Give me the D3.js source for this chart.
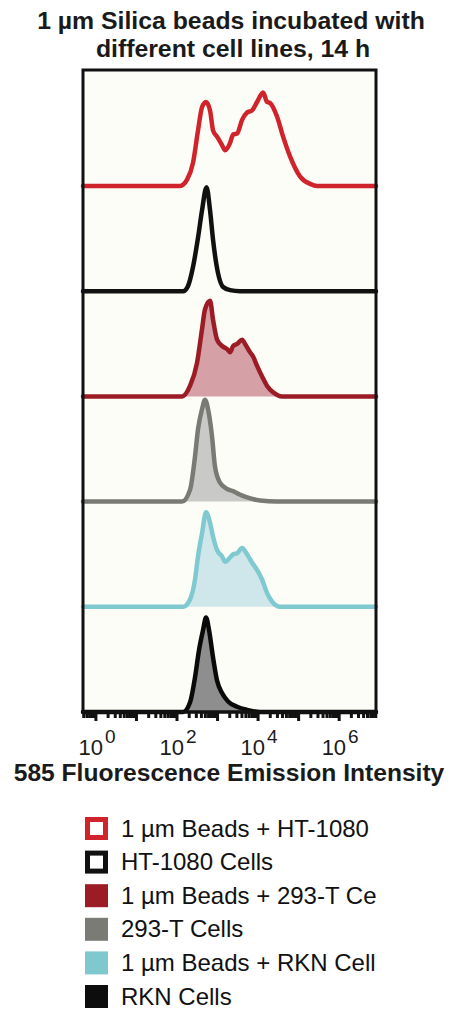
<!DOCTYPE html>
<html>
<head>
<meta charset="utf-8">
<script src="https://cdn.jsdelivr.net/npm/d3@7"></script>
<style>
  body { margin: 0; background: #fff; }
  svg { display: block; font-family: "Liberation Sans", Arial, sans-serif; }
</style>
</head>
<body>
<svg id="chart" width="450" height="1010"></svg>
<script>
// values: [intensity, % of max]
var htBeads = [[119,0],[177,6],[248,22],[330,53],[414,75],[520,80],[653,72],[774,53],[972,47],[1290,39],[1530,34],
  [2040,41],[2420,49],[3030,50],[4030,63],[5350,70],[7110,72],[9440,80],[13280,89],[16670,80],[19780,79],
  [29440,66],[41400,47],[61660,28],[108900,9],[192300,2],[286400,0]];
var htCells = [[141,0],[187,5],[248,23],[330,51],[414,77],[535,99],[653,77],[774,49],[1030,17],[1370,4],[2040,1],[3590,0]];
var t293Beads = [[133,0],[209,10],[312,32],[414,64],[491,83],[653,91],[774,73],[972,54],[1290,48],[1720,45],[2040,42],
  [2420,48],[3030,50],[4030,54],[4780,50],[6340,42],[7530,38],[9440,29],[12550,19],[16670,10],[23440,4],[39160,0]];
var t293Cells = [[133,0],[209,11],[278,43],[330,69],[414,88],[491,97],[583,88],[731,62],[867,33],[1150,18],[1720,12],
  [2400,10],[3400,7],[5350,4],[11190,1],[29440,0]];
var rknBeads = [[141,0],[209,7],[278,26],[330,48],[414,70],[520,90],[653,80],[774,67],[972,54],[1290,48],[1530,43],
  [2040,47],[2420,50],[3030,51],[4030,56],[5350,50],[7110,42],[9440,35],[12550,26],[16670,13],[22180,5],[34910,0]];
var rknCells = [[141,0],[209,9],[278,33],[349,59],[439,78],[520,90],[617,78],[774,52],[972,30],[1290,18],[1820,10],
  [3030,5],[5350,2],[11190,0]];

var seriesNames = ["1 µm Beads + HT-1080", "HT-1080 Cells", "1 µm Beads + 293-T Ce", "293-T Cells", "1 µm Beads + RKN Cell", "RKN Cells"];
var seriesData = [htBeads, htCells, t293Beads, t293Cells, rknBeads, rknCells];
var strokeColors = ["#d0232b", "#111111", "#9b1c25", "#7a7a74", "#7ecad0", "#0a0a0a"];
var fillColors = ["none", "none", "#d6a0a7", "#c9c9c7", "#cfe6ea", "#8e8e8e"];
var legendColors = ["#d0232b", "#111111", "#9b1c25", "#7b7b75", "#7fc8ce", "#0d0d0d"];
var legendHollow = [true, true, false, false, false, false];
var tickExponents = [0, 2, 4, 6];

var svg = d3.select("#chart");
var plotL = 83, plotR = 376, plotT = 70, plotB = 712;

var x = d3.scaleLog().domain([0.48, 8.1e6]).range([plotL, plotR]);
var band = d3.scalePoint().domain(seriesNames).range([186, plotB]);
var h = d3.scaleLinear().domain([0, 100]).range([0, 105]);

// title
svg.append("text").attr("x", 231).attr("y", 29).attr("text-anchor", "middle")
  .style("font-weight", "bold").style("font-size", "24.8px").attr("fill", "#1a1a1a")
  .text("1 µm Silica beads incubated with");
svg.append("text").attr("x", 233).attr("y", 57).attr("text-anchor", "middle")
  .style("font-weight", "bold").style("font-size", "24.8px").attr("fill", "#1a1a1a")
  .text("different cell lines, 14 h");

// plot background
svg.append("rect").attr("x", plotL).attr("y", plotT).attr("width", plotR - plotL).attr("height", plotB - plotT)
  .attr("fill", "#fdfdf7");

svg.append("clipPath").attr("id", "plotclip").append("rect")
  .attr("x", plotL - 3).attr("y", plotT).attr("width", plotR - plotL + 6).attr("height", plotB - plotT + 3);

var g = svg.append("g").attr("clip-path", "url(#plotclip)");
var dom = x.domain();

seriesData.forEach(function(d, i) {
  var base = band(seriesNames[i]);
  var pts = [[dom[0], 0]].concat(d, [[dom[1], 0]]);
  if (fillColors[i] != "none") {
    var area = d3.area().x(function(p) { return x(p[0]); })
      .y0(base).y1(function(p) { return base - h(p[1]); }).curve(d3.curveMonotoneX);
    g.append("path").attr("d", area(d)).attr("fill", fillColors[i]);
  }
  var line = d3.line().x(function(p) { return x(p[0]); })
    .y(function(p) { return base - h(p[1]); }).curve(d3.curveMonotoneX);
  g.append("path").attr("d", line(pts)).attr("fill", "none")
    .attr("stroke", strokeColors[i]).attr("stroke-width", 4.5)
    .attr("stroke-linejoin", "round").attr("stroke-linecap", "round");
});

// frame
svg.append("path").attr("d", "M" + plotL + "," + plotB + "V" + plotT + "H" + plotR + "V" + plotB)
  .attr("fill", "none").attr("stroke", "#111").attr("stroke-width", 3);
svg.append("line").attr("x1", plotL - 1.5).attr("x2", plotR + 1.5).attr("y1", plotB).attr("y2", plotB)
  .attr("stroke", "#111").attr("stroke-width", 3.5);

// x ticks
var ticks = x.ticks().filter(function(t) { return t >= dom[0] && t <= dom[1]; });
svg.selectAll(".tick").data(ticks).enter().append("line")
  .attr("x1", function(t) { return x(t); }).attr("x2", function(t) { return x(t); })
  .attr("y1", plotB).attr("y2", function(t) {
    var e = Math.log10(t);
    return plotB + (Math.abs(e - Math.round(e)) < 1e-6 ? 9 : 6);
  })
  .attr("stroke", "#111").attr("stroke-width", 3);

var labels = svg.selectAll(".lbl").data(tickExponents).enter().append("text")
  .attr("x", function(e) { return x(Math.pow(10, e)) + 1; }).attr("y", 755)
  .attr("text-anchor", "middle").style("font-size", "22px").attr("fill", "#1a1a1a");
labels.append("tspan").text("10");
labels.append("tspan").attr("dx", 2).attr("dy", -12).style("font-size", "19px").text(function(e) { return e; });

svg.append("text").attr("x", 229).attr("y", 781).attr("text-anchor", "middle")
  .style("font-weight", "bold").style("font-size", "24.6px").attr("fill", "#1a1a1a")
  .text("585 Fluorescence Emission Intensity");

// legend
var leg = svg.selectAll(".leg").data(seriesNames).enter().append("g")
  .attr("transform", function(d, i) { return "translate(85," + (817 + i * 33.6) + ")"; });
leg.append("rect")
  .attr("x", function(d, i) { return legendHollow[i] ? 2.5 : 0; })
  .attr("y", function(d, i) { return legendHollow[i] ? 2.5 : 0; })
  .attr("width", function(d, i) { return legendHollow[i] ? 18 : 23; })
  .attr("height", function(d, i) { return legendHollow[i] ? 18 : 23; })
  .attr("fill", function(d, i) { return legendHollow[i] ? "#fff" : legendColors[i]; })
  .attr("stroke", function(d, i) { return legendHollow[i] ? legendColors[i] : "none"; })
  .attr("stroke-width", 5);
leg.append("text").attr("x", 36).attr("y", 19.5).style("font-size", "24px").attr("fill", "#111")
  .text(function(d) { return d; });
</script>
</body>
</html>
